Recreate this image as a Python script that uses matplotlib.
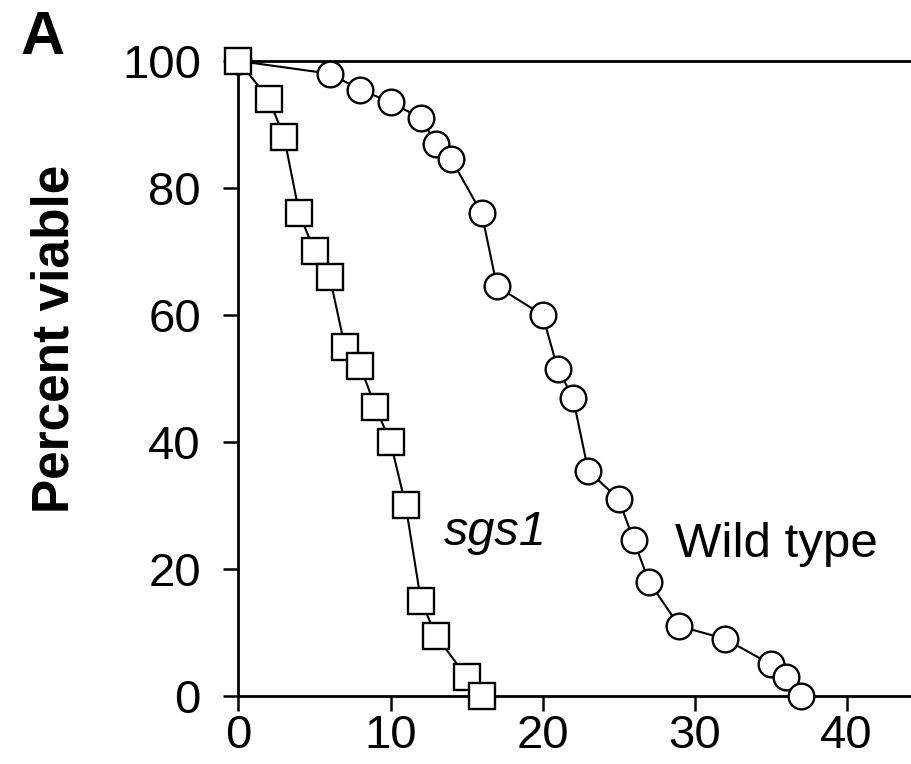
import matplotlib
matplotlib.use("Agg")
import matplotlib.pyplot as plt

plt.rcParams['font.family'] = ['Liberation Sans', 'DejaVu Sans']

# wild type survival (days vs percent viable)
wt_days = [0, 6, 8, 10, 12, 13, 14, 16, 17, 20, 21, 22, 23, 25, 26, 27, 29, 32, 35, 36, 37]
wt_viable = [100, 98, 95.5, 93.5, 91, 87, 84.5, 76, 64.5, 60, 51.5, 47, 35.5, 31, 24.5, 18, 11, 9, 5, 3, 0]

# sgs1 mutant
sgs1_days = [0, 2, 3, 4, 5, 6, 7, 8, 9, 10, 11, 12, 13, 15, 16]
sgs1_viable = [100, 94, 88, 76, 70, 66, 55, 52, 45.5, 40, 30, 15, 9.5, 3, 0]

x_ticks = [0, 10, 20, 30, 40]
y_ticks = [0, 20, 40, 60, 80, 100]

fig = plt.figure(figsize=(9.12, 7.64), dpi=100)
ax = fig.add_axes([0.2615, 0.089, 0.7385, 0.8312])

ax.plot(wt_days, wt_viable, color='black', lw=1.5, marker='o', ms=18.5,
        mfc='white', mec='black', mew=1.7, zorder=3, clip_on=False)
ax.plot(sgs1_days, sgs1_viable, color='black', lw=1.5, marker='s', ms=18.5,
        mfc='white', mec='black', mew=1.7, zorder=4, clip_on=False)

ax.set_xlim(0, 44.3)
ax.set_ylim(0, 100)
ax.set_xticks(x_ticks)
ax.set_yticks(y_ticks)

for side in ['left', 'bottom', 'top']:
    ax.spines[side].set_linewidth(2)
ax.spines['right'].set_visible(False)

ax.tick_params(axis='both', direction='out', length=11, width=1.8, labelsize=34)
ax.tick_params(axis='y', pad=16)
ax.tick_params(axis='x', pad=2)

ax.text(13.5, 23.8, 'sgs1', fontsize=35, style='italic')
ax.text(28.7, 21.9, 'Wild type', fontsize=35.5)

fig.text(0.06, 0.557, 'Percent viable', rotation=90, fontsize=37,
         fontweight='bold', ha='center', va='center')
fig.text(0.022, 0.987, 'A', fontsize=44, fontweight='bold', ha='left', va='top')

fig.savefig('out.png', dpi=100)
